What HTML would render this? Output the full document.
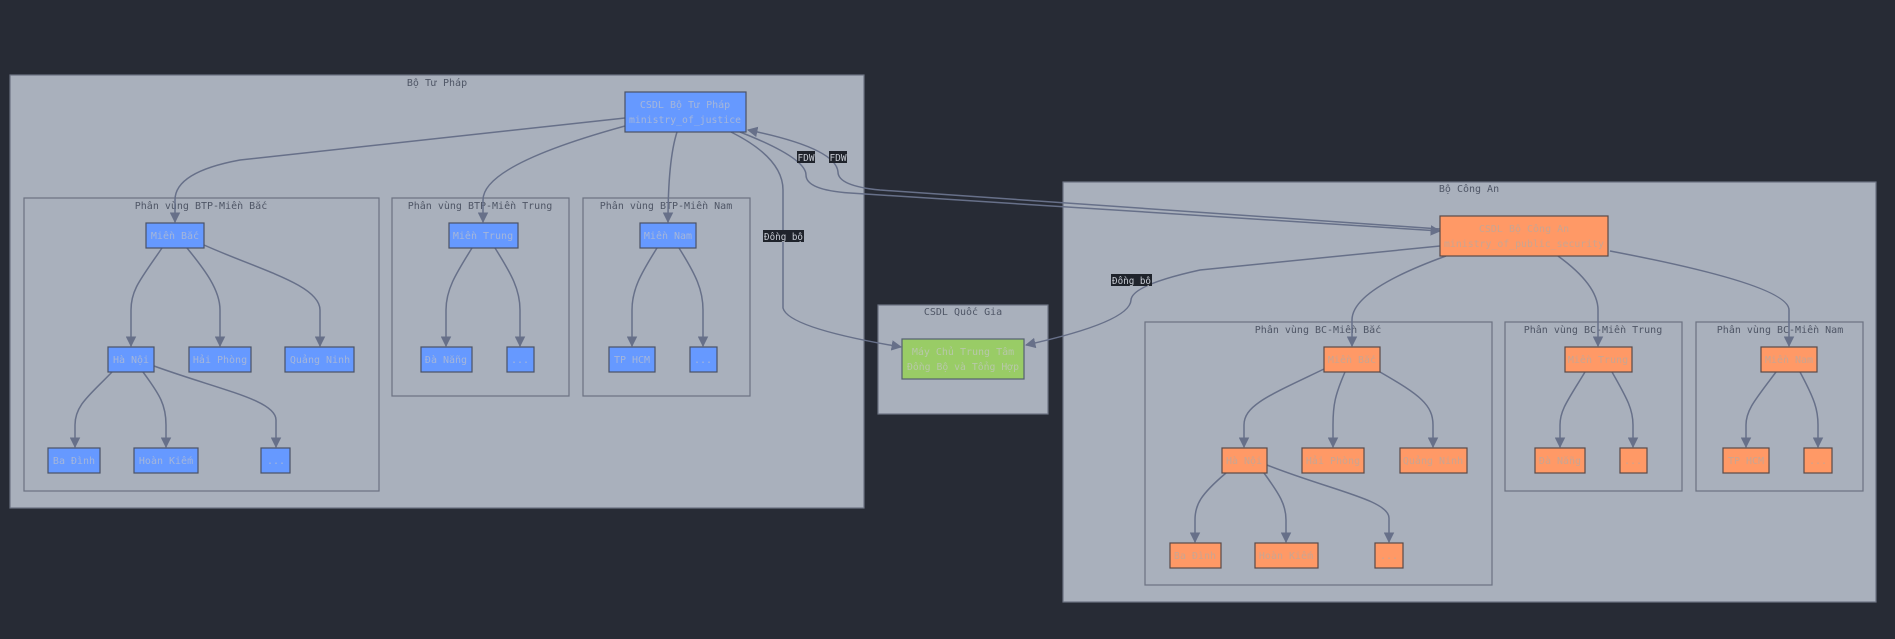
<!DOCTYPE html>
<html><head><meta charset="utf-8"><style>
html,body{margin:0;padding:0;background:#272b35;}
svg{display:block;}
text{font-family:"DejaVu Sans Mono","Liberation Mono",monospace;font-size:10px;}
.cl{fill:#a9b0bc;stroke:#6b7282;stroke-width:1.2;}
.ct{fill:#4f5666;text-anchor:middle;}
.b{fill:#6699ff;stroke:#4a5266;stroke-width:1.2;}
.o{fill:#ff9966;stroke:#5a4a48;stroke-width:1.2;}
.g{fill:#99cc66;stroke:#556070;stroke-width:1.2;}
.bt{fill:#a5b6da;text-anchor:middle;}
.ot{fill:#c9a592;text-anchor:middle;}
.gt{fill:#b7c8a8;text-anchor:middle;}
.e{fill:none;stroke:#677089;stroke-width:1.5;}
.lb{fill:#1f232b;}
.lt{fill:#c8ccd4;}
</style></head><body>
<svg width="1895" height="639" viewBox="0 0 1895 639" xmlns="http://www.w3.org/2000/svg">
<defs><marker id="a" viewBox="0 0 10 10" refX="9" refY="5" markerWidth="7" markerHeight="7" orient="auto"><path d="M0,0 L10,5 L0,10 z" fill="#677089"/></marker></defs>

<rect class="cl" x="10" y="75" width="854" height="433"/>
<text class="ct" x="437" y="86">Bộ Tư Pháp</text>
<rect class="cl" x="24" y="198" width="355" height="293"/>
<text class="ct" x="201" y="209">Phân vùng BTP-Miền Bắc</text>
<rect class="cl" x="392" y="198" width="177" height="198"/>
<text class="ct" x="480" y="209">Phân vùng BTP-Miền Trung</text>
<rect class="cl" x="583" y="198" width="167" height="198"/>
<text class="ct" x="666" y="209">Phân vùng BTP-Miền Nam</text>

<rect class="cl" x="878" y="305" width="170" height="109"/>
<text class="ct" x="963" y="315">CSDL Quốc Gia</text>

<rect class="cl" x="1063" y="182" width="813" height="420"/>
<text class="ct" x="1469" y="192">Bộ Công An</text>
<rect class="cl" x="1145" y="322" width="347" height="263"/>
<text class="ct" x="1318" y="333">Phân vùng BC-Miền Bắc</text>
<rect class="cl" x="1505" y="322" width="177" height="169"/>
<text class="ct" x="1593" y="333">Phân vùng BC-Miền Trung</text>
<rect class="cl" x="1696" y="322" width="167" height="169"/>
<text class="ct" x="1780" y="333">Phân vùng BC-Miền Nam</text>

<path class="e" marker-end="url(#a)" d="M625,118 L240,160 Q175,172 175,200 L175,222"/>
<path class="e" marker-end="url(#a)" d="M625,126 Q483,165 483,200 L483,222"/>
<path class="e" marker-end="url(#a)" d="M677,132 Q668,160 668,222"/>
<path class="e" marker-end="url(#a)" d="M731,132 Q783,158 783,190 L783,308 Q788,328 901,347"/>
<path class="e" marker-end="url(#a)" d="M740,132 Q806,158 806,175 Q806,190 850,193 L1440,231"/>
<path class="e" marker-end="url(#a)" d="M1440,229 L880,190 Q838,186 838,172 Q836,148 748,130"/>
<path class="e" marker-end="url(#a)" d="M1440,246 L1200,270 Q1132,285 1131,300 Q1130,322 1026,345"/>
<path class="e" marker-end="url(#a)" d="M1446,256 Q1352,290 1352,320 L1352,346"/>
<path class="e" marker-end="url(#a)" d="M1558,256 Q1598,285 1598,310 L1598,346"/>
<path class="e" marker-end="url(#a)" d="M1610,251 Q1789,285 1789,310 L1789,346"/>

<path class="e" marker-end="url(#a)" d="M162,248 C140,280 131,290 131,310 L131,346"/>
<path class="e" marker-end="url(#a)" d="M187,248 C205,270 220,290 220,310 L220,346"/>
<path class="e" marker-end="url(#a)" d="M204,245 C260,270 320,285 320,310 L320,346"/>
<path class="e" marker-end="url(#a)" d="M112,372 C90,395 75,405 75,425 L75,447"/>
<path class="e" marker-end="url(#a)" d="M143,372 C160,395 166,405 166,425 L166,447"/>
<path class="e" marker-end="url(#a)" d="M154,366 C220,390 276,400 276,420 L276,447"/>
<path class="e" marker-end="url(#a)" d="M472,248 C455,275 446,290 446,310 L446,346"/>
<path class="e" marker-end="url(#a)" d="M495,248 C512,275 520,290 520,310 L520,346"/>
<path class="e" marker-end="url(#a)" d="M657,248 C640,275 632,290 632,310 L632,346"/>
<path class="e" marker-end="url(#a)" d="M679,248 C696,275 703,290 703,310 L703,346"/>

<path class="e" marker-end="url(#a)" d="M1324,369 C1270,395 1244,405 1244,425 L1244,447"/>
<path class="e" marker-end="url(#a)" d="M1345,372 C1335,395 1333,405 1333,425 L1333,447"/>
<path class="e" marker-end="url(#a)" d="M1380,372 C1420,395 1433,405 1433,425 L1433,447"/>
<path class="e" marker-end="url(#a)" d="M1226,473 C1200,495 1195,505 1195,520 L1195,542"/>
<path class="e" marker-end="url(#a)" d="M1264,473 C1280,495 1286,505 1286,520 L1286,542"/>
<path class="e" marker-end="url(#a)" d="M1267,465 C1330,490 1389,500 1389,518 L1389,542"/>
<path class="e" marker-end="url(#a)" d="M1585,372 C1568,400 1560,410 1560,425 L1560,447"/>
<path class="e" marker-end="url(#a)" d="M1612,372 C1628,400 1633,410 1633,425 L1633,447"/>
<path class="e" marker-end="url(#a)" d="M1776,372 C1755,400 1746,410 1746,425 L1746,447"/>
<path class="e" marker-end="url(#a)" d="M1800,372 C1815,400 1818,410 1818,425 L1818,447"/>

<rect class="lb" x="797" y="151" width="18" height="12"/><text class="lt" x="806" y="161" text-anchor="middle" textLength="17" lengthAdjust="spacingAndGlyphs">FDW</text>
<rect class="lb" x="829" y="151" width="18" height="12"/><text class="lt" x="838" y="161" text-anchor="middle" textLength="17" lengthAdjust="spacingAndGlyphs">FDW</text>
<rect class="lb" x="763" y="230" width="41" height="12"/><text class="lt" x="764" y="240" textLength="39" lengthAdjust="spacingAndGlyphs">Đồng bộ</text>
<rect class="lb" x="1111" y="274" width="41" height="12"/><text class="lt" x="1112" y="284" textLength="39" lengthAdjust="spacingAndGlyphs">Đồng bộ</text>

<rect class="b" x="625" y="92" width="121" height="40"/>
<text class="bt" x="685" y="108">CSDL Bộ Tư Pháp</text><text class="bt" x="685" y="123" textLength="112" lengthAdjust="spacingAndGlyphs">ministry_of_justice</text>
<rect class="b" x="146" y="223" width="58" height="25"/><text class="bt" x="175" y="239">Miền Bắc</text>
<rect class="b" x="449" y="223" width="69" height="25"/><text class="bt" x="483" y="239">Miền Trung</text>
<rect class="b" x="640" y="223" width="56" height="25"/><text class="bt" x="668" y="239">Miền Nam</text>
<rect class="b" x="108" y="347" width="46" height="25"/><text class="bt" x="131" y="363">Hà Nội</text>
<rect class="b" x="189" y="347" width="62" height="25"/><text class="bt" x="220" y="363">Hải Phòng</text>
<rect class="b" x="285" y="347" width="69" height="25"/><text class="bt" x="320" y="363">Quảng Ninh</text>
<rect class="b" x="421" y="347" width="51" height="25"/><text class="bt" x="446" y="363">Đà Nẵng</text>
<rect class="b" x="507" y="347" width="27" height="25"/><text class="bt" x="520" y="363">...</text>
<rect class="b" x="609" y="347" width="46" height="25"/><text class="bt" x="632" y="363">TP HCM</text>
<rect class="b" x="690" y="347" width="27" height="25"/><text class="bt" x="703" y="363">...</text>
<rect class="b" x="48" y="448" width="52" height="25"/><text class="bt" x="74" y="464">Ba Đình</text>
<rect class="b" x="134" y="448" width="64" height="25"/><text class="bt" x="166" y="464">Hoàn Kiếm</text>
<rect class="b" x="261" y="448" width="29" height="25"/><text class="bt" x="276" y="464">...</text>

<rect class="g" x="902" y="339" width="122" height="40"/>
<text class="gt" x="963" y="355">Máy Chủ Trung Tâm</text><text class="gt" x="963" y="370" textLength="112" lengthAdjust="spacingAndGlyphs">Đồng Bộ và Tổng Hợp</text>

<rect class="o" x="1440" y="216" width="168" height="40"/>
<text class="ot" x="1524" y="232">CSDL Bộ Công An</text><text class="ot" x="1524" y="247" textLength="160" lengthAdjust="spacingAndGlyphs">ministry_of_public_security</text>
<rect class="o" x="1324" y="347" width="56" height="25"/><text class="ot" x="1352" y="363">Miền Bắc</text>
<rect class="o" x="1565" y="347" width="67" height="25"/><text class="ot" x="1598" y="363">Miền Trung</text>
<rect class="o" x="1761" y="347" width="56" height="25"/><text class="ot" x="1789" y="363">Miền Nam</text>
<rect class="o" x="1222" y="448" width="45" height="25"/><text class="ot" x="1244" y="464">Hà Nội</text>
<rect class="o" x="1302" y="448" width="62" height="25"/><text class="ot" x="1333" y="464">Hải Phòng</text>
<rect class="o" x="1400" y="448" width="67" height="25"/><text class="ot" x="1433" y="464">Quảng Ninh</text>
<rect class="o" x="1535" y="448" width="50" height="25"/><text class="ot" x="1560" y="464">Đà Nẵng</text>
<rect class="o" x="1620" y="448" width="27" height="25"/><text class="ot" x="1633" y="464">...</text>
<rect class="o" x="1723" y="448" width="46" height="25"/><text class="ot" x="1746" y="464">TP HCM</text>
<rect class="o" x="1804" y="448" width="28" height="25"/><text class="ot" x="1818" y="464">...</text>
<rect class="o" x="1170" y="543" width="51" height="25"/><text class="ot" x="1195" y="559">Ba Đình</text>
<rect class="o" x="1255" y="543" width="63" height="25"/><text class="ot" x="1286" y="559">Hoàn Kiếm</text>
<rect class="o" x="1375" y="543" width="28" height="25"/><text class="ot" x="1389" y="559">...</text>
</svg>
</body></html>
